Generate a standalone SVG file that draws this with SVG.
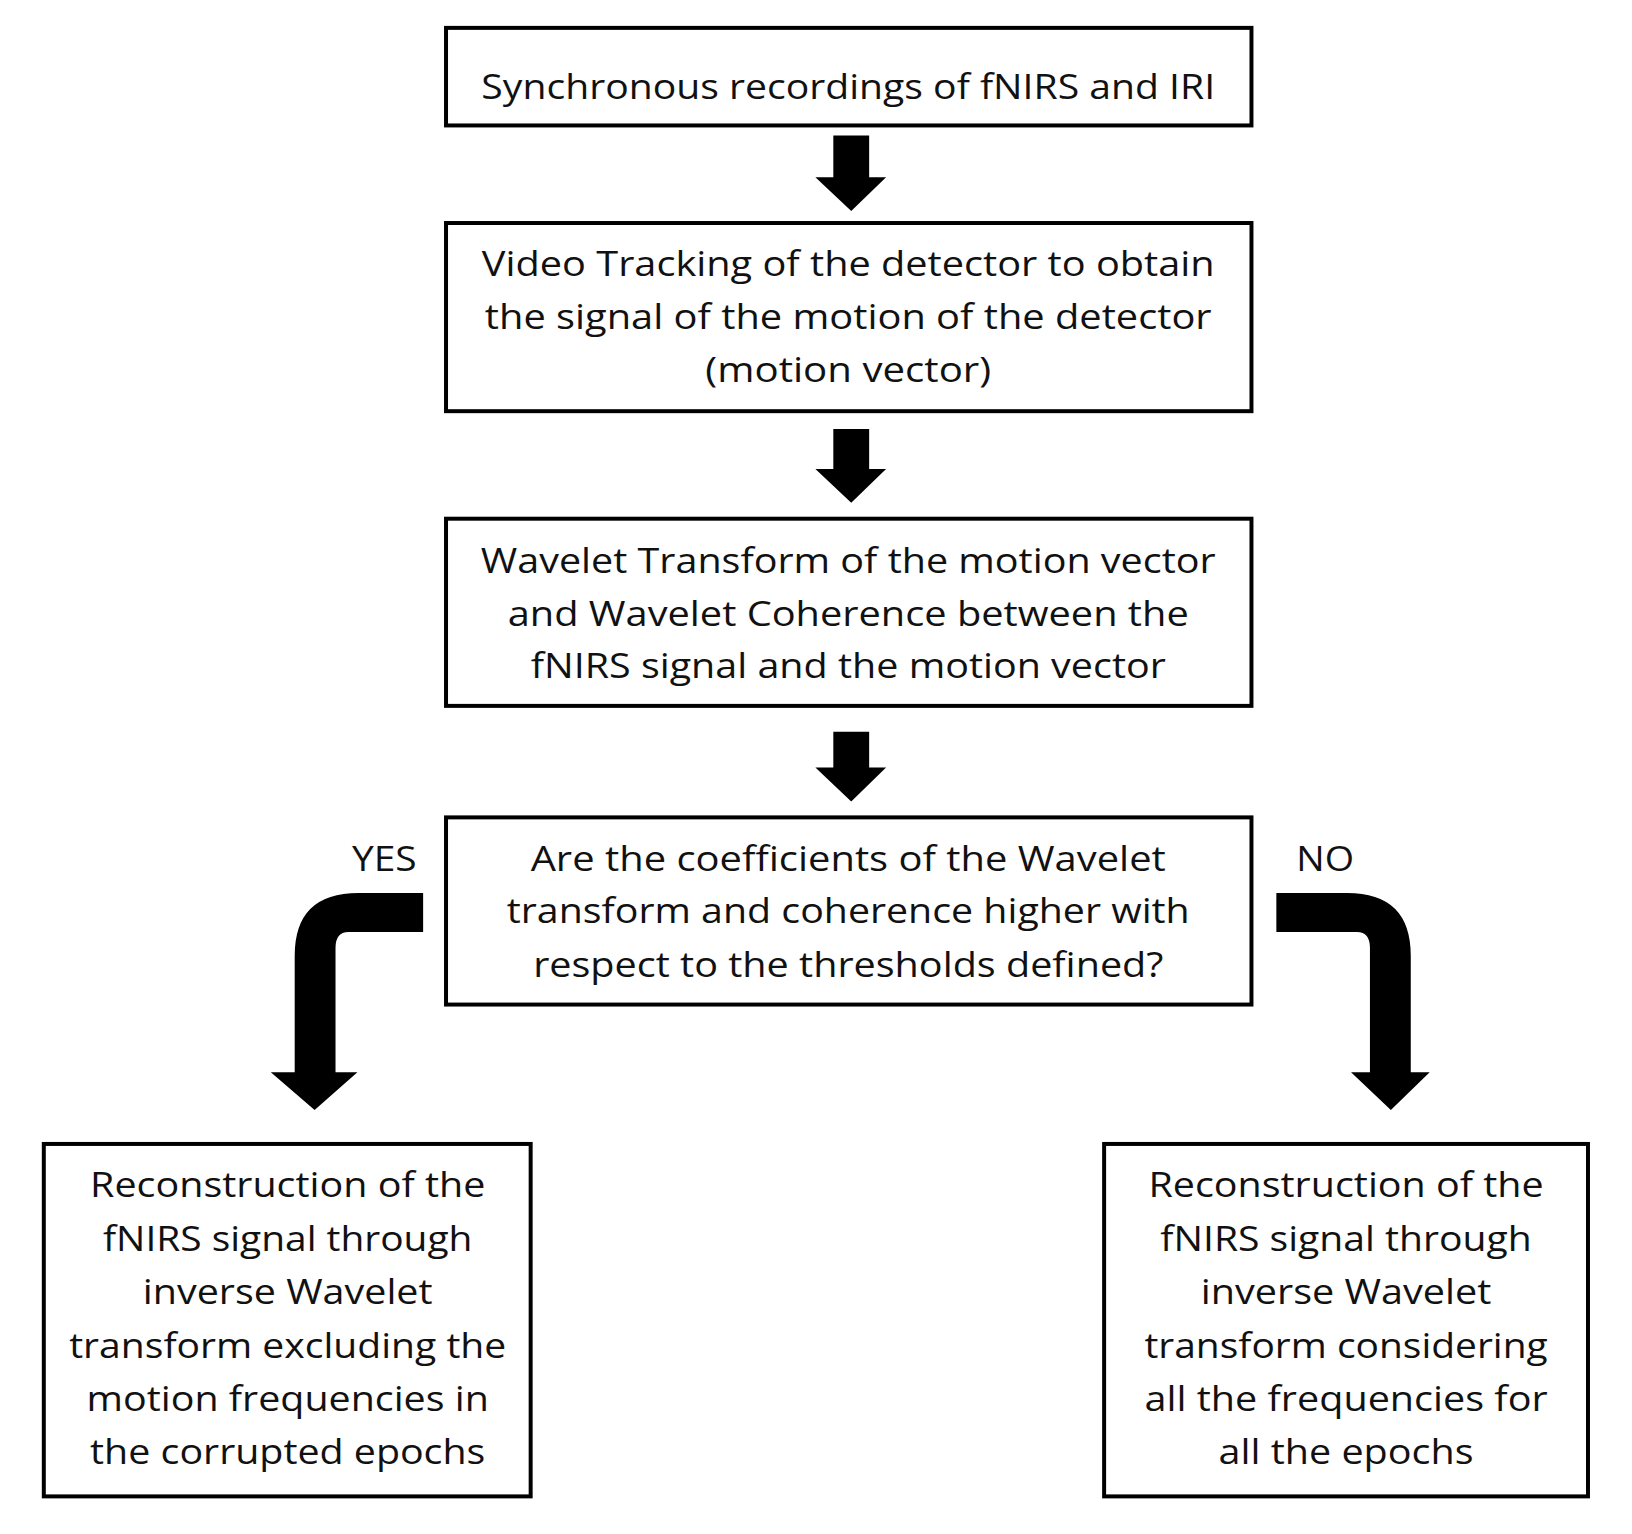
<svg xmlns="http://www.w3.org/2000/svg" width="1632" height="1534" viewBox="0 0 1632 1534">
<style>
.box{fill:#fff;stroke:#000;stroke-width:4}
text{font-family:"Open Sans","Noto Sans",sans-serif;font-size:35px;fill:#111;text-anchor:middle;dominant-baseline:central}
.ar{fill:#000}
</style>
<rect width="1632" height="1534" fill="#fff"/>
<g transform="scale(0.9956)">
<g id="n1"><rect class="box" x="448" y="28" width="809" height="98"/>
<text x="852" y="86" textLength="737" lengthAdjust="spacingAndGlyphs">Synchronous recordings of fNIRS and IRI</text></g>
<g id="n2"><rect class="box" x="448" y="224" width="809" height="189"/>
<text x="852" y="264" textLength="736" lengthAdjust="spacingAndGlyphs">Video Tracking of the detector to obtain</text>
<text x="852" y="317" textLength="730" lengthAdjust="spacingAndGlyphs">the signal of the motion of the detector</text>
<text x="852" y="370" textLength="287" lengthAdjust="spacingAndGlyphs">(motion vector)</text></g>
<g id="n3"><rect class="box" x="448" y="521" width="809" height="188"/>
<text x="852" y="562" textLength="738" lengthAdjust="spacingAndGlyphs">Wavelet Transform of the motion vector</text>
<text x="852" y="615" textLength="684" lengthAdjust="spacingAndGlyphs">and Wavelet Coherence between the</text>
<text x="852" y="667" textLength="638" lengthAdjust="spacingAndGlyphs">fNIRS signal and the motion vector</text></g>
<g id="n4"><rect class="box" x="448" y="821" width="809" height="188"/>
<text x="852" y="861" textLength="638" lengthAdjust="spacingAndGlyphs">Are the coefficients of the Wavelet</text>
<text x="852" y="914" textLength="686" lengthAdjust="spacingAndGlyphs">transform and coherence higher with</text>
<text x="852" y="968" textLength="633" lengthAdjust="spacingAndGlyphs">respect to the thresholds defined?</text></g>
<g id="n5"><rect class="box" x="44" y="1149" width="489" height="354"/>
<text x="289" y="1189" textLength="397" lengthAdjust="spacingAndGlyphs">Reconstruction of the</text>
<text x="289" y="1243" textLength="371" lengthAdjust="spacingAndGlyphs">fNIRS signal through</text>
<text x="289" y="1296" textLength="291" lengthAdjust="spacingAndGlyphs">inverse Wavelet</text>
<text x="289" y="1350" textLength="439" lengthAdjust="spacingAndGlyphs">transform excluding the</text>
<text x="289" y="1404" textLength="404" lengthAdjust="spacingAndGlyphs">motion frequencies in</text>
<text x="289" y="1457" textLength="397" lengthAdjust="spacingAndGlyphs">the corrupted epochs</text></g>
<g id="n6"><rect class="box" x="1109" y="1149" width="486" height="354"/>
<text x="1352" y="1189" textLength="397" lengthAdjust="spacingAndGlyphs">Reconstruction of the</text>
<text x="1352" y="1243" textLength="373" lengthAdjust="spacingAndGlyphs">fNIRS signal through</text>
<text x="1352" y="1296" textLength="292" lengthAdjust="spacingAndGlyphs">inverse Wavelet</text>
<text x="1352" y="1350" textLength="405" lengthAdjust="spacingAndGlyphs">transform considering</text>
<text x="1352" y="1404" textLength="405" lengthAdjust="spacingAndGlyphs">all the frequencies for</text>
<text x="1352" y="1457" textLength="256" lengthAdjust="spacingAndGlyphs">all the epochs</text></g>
<g id="connectors">
<path class="ar" d="M837 136H873V178H890L855 212L819 178H837Z"/>
<path class="ar" d="M837 431H873V471H890L855 505L819 471H837Z"/>
<path class="ar" d="M837 735H873V771H890L855 805L819 771H837Z"/>
<path class="ar" d="M425 897V936H350Q337 936 337 952V1077H359L316 1115L272 1077H296V960Q296 897 360 897Z"/>
<path class="ar" d="M1282 897V936H1363Q1376 936 1376 952V1077H1357L1397 1115L1436 1077H1417V960Q1417 897 1353 897Z"/>
<text x="386" y="861" textLength="65" lengthAdjust="spacingAndGlyphs">YES</text>
<text x="1331" y="861" textLength="58" lengthAdjust="spacingAndGlyphs">NO</text>
</g>
</g>
</svg>
